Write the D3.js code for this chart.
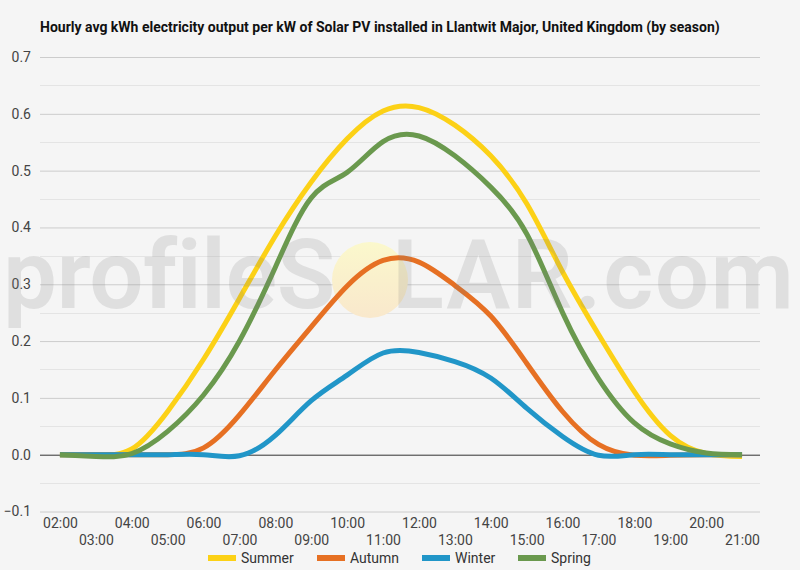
<!DOCTYPE html>
<html>
<head>
<meta charset="utf-8">
<script src="https://cdn.jsdelivr.net/npm/d3@7"></script>
<style>
  body { margin: 0; background: #f5f5f5; }
  text { font-family: Roboto, "Noto Sans", sans-serif; }
</style>
</head>
<body>
<div id="app"></div>
<script>
// hourly values
let hours = ['02:00', '03:00', '04:00', '05:00', '06:00', '07:00', '08:00', '09:00', '10:00', '11:00',
  '12:00', '13:00', '14:00', '15:00', '16:00', '17:00', '18:00', '19:00', '20:00', '21:00'];
let summer = [0, 0, 0.01, 0.076, 0.168, 0.275, 0.385, 0.48, 0.556, 0.605,
  0.611, 0.58, 0.526, 0.442, 0.322, 0.212, 0.111, 0.034, 0.002, -0.003];
let autumn = [0, 0, 0, 0, 0.012, 0.07, 0.149, 0.225, 0.297, 0.342,
  0.339, 0.298, 0.244, 0.161, 0.076, 0.018, -0.001, -0.001, 0, 0];
let winter = [0, 0, 0, 0, 0, -0.002, 0.034, 0.095, 0.14, 0.179,
  0.18, 0.164, 0.135, 0.082, 0.032, -0.001, 0, 0, 0, 0];
let spring = [0, -0.003, 0.002, 0.041, 0.105, 0.2, 0.33, 0.452, 0.497, 0.551,
  0.561, 0.526, 0.471, 0.389, 0.25, 0.134, 0.056, 0.019, 0.003, 0];
let seriesNames = ['Summer', 'Autumn', 'Winter', 'Spring'];
let yTicks = [-0.1, 0, 0.1, 0.2, 0.3, 0.4, 0.5, 0.6, 0.7];
let title = 'Hourly avg kWh electricity output per kW of Solar PV installed in Llantwit Major, United Kingdom (by season)';

let colors = ['#fcd116', '#e67023', '#2196c8', '#6a994e'];
let series = [summer, autumn, winter, spring];

let W = 800, H = 570;
let margin = { top: 57, left: 42, right: 40, bottom: 58 };

let svg = d3.select('#app').append('svg')
  .attr('width', W)
  .attr('height', H)
  .style('display', 'block')
  .style('background', '#f5f5f5');

let xScale = d3.scalePoint()
  .domain(hours)
  .range([margin.left, W - margin.right])
  .padding(0.5);

let yScale = d3.scaleLinear()
  .domain([-0.1, 0.7])
  .range([H - margin.bottom - 0.5, margin.top]);

svg.append('text')
  .attr('x', 40)
  .attr('y', 32)
  .attr('font-size', 14)
  .attr('font-weight', 'bold')
  .attr('fill', '#111')
  .text(title);

// minor gridlines
let minor = d3.range(-0.05, 0.7, 0.1);
svg.append('g').selectAll('line')
  .data(minor)
  .join('line')
  .attr('x1', 40).attr('x2', 760)
  .attr('y1', d => Math.round(yScale(d)) + 0.5)
  .attr('y2', d => Math.round(yScale(d)) + 0.5)
  .attr('stroke', '#e4e4e4');

// major gridlines
let yg = svg.append('g')
  .attr('class', 'y axis')
  .attr('transform', 'translate(40,0)')
  .call(d3.axisLeft(yScale).tickValues(yTicks).tickSize(-720).tickFormat(d3.format('.1f')));
yg.select('.domain').remove();
yg.selectAll('.tick line')
  .attr('stroke', d => Math.abs(d) < 1e-9 ? '#333' : '#cccccc');
yg.selectAll('.tick text')
  .attr('x', -9)
  .attr('font-size', 14)
  .attr('fill', '#444')
  .attr('font-family', 'Roboto');

// x labels in two staggered rows
let xg = svg.append('g')
  .attr('class', 'x axis')
  .attr('transform', 'translate(0,' + (H - margin.bottom) + ')')
  .call(d3.axisBottom(xScale).tickSize(0));
xg.select('.domain').remove();
xg.selectAll('.tick text')
  .attr('font-size', 14)
  .attr('fill', '#444')
  .attr('font-family', 'Roboto')
  .attr('dy', null)
  .attr('y', (d, i) => i % 2 === 0 ? 16 : 33);

// sun of the watermark sits behind the lines
let defs = svg.append('defs');
let grad = defs.append('linearGradient')
  .attr('id', 'sun').attr('x1', 0).attr('y1', 0).attr('x2', 0).attr('y2', 1);
grad.append('stop').attr('offset', '0%').attr('stop-color', '#fbf8cc');
grad.append('stop').attr('offset', '100%').attr('stop-color', '#f9e8cc');
svg.append('ellipse')
  .attr('cx', 370).attr('cy', 280)
  .attr('rx', 38).attr('ry', 38)
  .attr('fill', 'url(#sun)');

let ln = d3.line()
  .curve(d3.curveNatural)
  .x((d, i) => xScale(hours[i]))
  .y(d => yScale(d));

svg.append('g').selectAll('path')
  .data(series)
  .join('path')
  .attr('fill', 'none')
  .attr('stroke', (d, i) => colors[i])
  .attr('stroke-width', 5)
  .attr('stroke-linejoin', 'round')
  .attr('d', d => ln(d));

// legend
let legendX = [208, 317, 422, 518];
let lg = svg.append('g').selectAll('g')
  .data(seriesNames)
  .join('g')
  .attr('transform', (d, i) => 'translate(' + legendX[i] + ',558)');
lg.append('rect')
  .attr('x', 0).attr('y', -3)
  .attr('width', 28).attr('height', 6)
  .attr('fill', (d, i) => colors[i]);
lg.append('text')
  .attr('x', 33).attr('y', 5)
  .attr('font-size', 14)
  .attr('fill', '#333')
  .text(d => d);

// watermark text over everything
let wm = svg.append('g').attr('pointer-events', 'none');
wm.append('text')
  .attr('x', 3).attr('y', 308)
  .attr('font-family', '"Open Sans", sans-serif')
  .attr('font-weight', 600)
  .attr('font-size', 96)
  .attr('letter-spacing', -0.5)
  .attr('fill', 'rgba(128,128,128,0.18)')
  .text('profileS');
wm.append('text')
  .attr('x', 392).attr('y', 308)
  .attr('font-family', '"Open Sans", sans-serif')
  .attr('font-weight', 600)
  .attr('font-size', 96)
  .attr('letter-spacing', 1.5)
  .attr('fill', 'rgba(128,128,128,0.18)')
  .text('LAR.com');
</script>
</body>
</html>
